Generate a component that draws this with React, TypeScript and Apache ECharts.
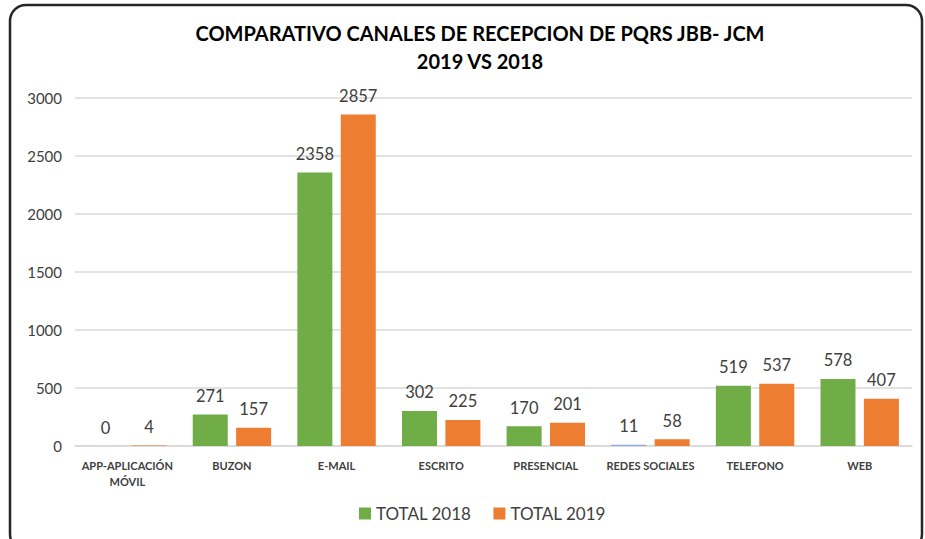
import React, { useEffect, useRef } from "react";
import * as echarts from "echarts";

const categories = [
  "APP-APLICACIÓN\nMÓVIL",
  "BUZON",
  "E-MAIL",
  "ESCRITO",
  "PRESENCIAL",
  "REDES SOCIALES",
  "TELEFONO",
  "WEB",
];
const total2018 = [0, 271, 2358, 302, 170, 11, 519, 578];
const total2019 = [4, 157, 2857, 225, 201, 58, 537, 407];
const yTicks = [0, 500, 1000, 1500, 2000, 2500, 3000];

const FONT = "Lato, 'Open Sans', sans-serif";

export default function App() {
  const ref = useRef<HTMLDivElement>(null);
  useEffect(() => {
    if (!ref.current) return;
    const chart = echarts.init(ref.current, null, { renderer: "svg" });
    const data2018 = total2018.map((v, i) =>
      i === 5 ? { value: v, itemStyle: { color: "#8faadc" } } : v
    );
    chart.setOption({
      animation: false,
      backgroundColor: "#ffffff",
      textStyle: { fontFamily: FONT },
      title: {
        text: "COMPARATIVO CANALES DE RECEPCION DE PQRS JBB- JCM\n2019 VS 2018",
        left: 475,
        textAlign: "center",
        top: 14,
        textStyle: {
          fontFamily: FONT,
          fontSize: 20,
          fontWeight: "bold",
          color: "#000000",
          lineHeight: 28,
        },
      },
      legend: {
        bottom: 12,
        left: 354,
        itemWidth: 12,
        itemHeight: 12,
        itemGap: 22,
        icon: "rect",
        textStyle: { fontFamily: FONT, fontSize: 17, color: "#404040" },
        data: ["TOTAL 2018", "TOTAL 2019"],
      },
      grid: { left: 75, right: 13, top: 98, bottom: 93, containLabel: false },
      xAxis: {
        type: "category",
        data: categories,
        axisLine: { show: true, lineStyle: { color: "#d9d9d9", width: 1.5 } },
        axisTick: { show: false },
        axisLabel: {
          fontFamily: FONT,
          fontSize: 11,
          fontWeight: "bold",
          color: "#404040",
          margin: 11,
          lineHeight: 16,
          interval: 0,
        },
      },
      yAxis: {
        type: "value",
        min: 0,
        max: 3000,
        interval: 500,
        axisLine: { show: false },
        axisTick: { show: false },
        splitLine: { lineStyle: { color: "#d9d9d9", width: 1.5 } },
        axisLabel: {
          fontFamily: FONT,
          fontSize: 15,
          color: "#404040",
          margin: 13,
          formatter: (v: number) => (yTicks.includes(v) ? String(v) : ""),
        },
      },
      series: [
        {
          name: "TOTAL 2018",
          type: "bar",
          data: data2018,
          barWidth: 35,
          barGap: "24%",
          itemStyle: { color: "#70ad47" },
          label: {
            show: true,
            position: "top",
            distance: 10,
            fontFamily: FONT,
            fontSize: 16.5,
            color: "#404040",
          },
        },
        {
          name: "TOTAL 2019",
          type: "bar",
          data: total2019,
          barWidth: 35,
          itemStyle: { color: "#ed7d31" },
          label: {
            show: true,
            position: "top",
            distance: 10,
            fontFamily: FONT,
            fontSize: 16.5,
            color: "#404040",
          },
        },
      ],
      graphic: [
        {
          type: "rect",
          shape: { x: 10, y: 5, width: 912, height: 545, r: 16 },
          style: { fill: "none", stroke: "#262626", lineWidth: 2.5 },
          silent: true,
          z: 100,
        },
      ],
    });
    return () => chart.dispose();
  }, []);
  return (
    <div
      ref={ref}
      style={{ position: "fixed", left: 0, top: 0, width: 925, height: 539 }}
    />
  );
}
